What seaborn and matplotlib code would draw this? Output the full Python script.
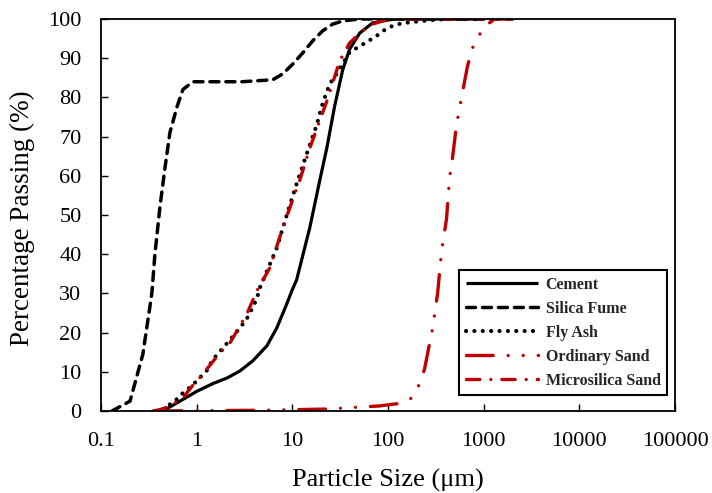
import matplotlib
matplotlib.use("Agg")
import matplotlib.pyplot as plt
import seaborn as sns
import pandas as pd

sns.set_theme(style="white")
plt.rcParams['font.family'] = ['Liberation Serif', 'DejaVu Serif']

# ---- data (particle size in µm, percentage passing) ----
cement_size = [0.443, 0.668, 1.0, 1.48, 2.07, 2.83, 3.86, 5.41, 6.88, 8.74, 9.86, 11.1, 15.2, 19.3, 22.9,
               27.7, 33.6, 39.7, 50.6, 69.0, 88.0, 117, 1000]
cement_pass = [0.0, 2.5, 5.0, 7.0, 8.4, 10.2, 12.8, 16.6, 21.2, 27.3, 30.6, 33.5, 46.7, 58.7, 67.0,
               77.8, 87.0, 92.3, 96.4, 99.0, 99.5, 100, 100]

silica_size = [0.13, 0.201, 0.274, 0.340, 0.366, 0.413, 0.466, 0.525, 0.621, 0.718, 0.91, 1.5, 3.0,
               6.24, 7.94, 10.1, 12.8, 16.3, 20.8, 26.4, 33.6, 50.0, 2000]
silica_pass = [0.0, 2.5, 14.5, 30.0, 40.0, 52.0, 62.0, 71.0, 77.5, 82.0, 84.0, 84.0, 84.0,
               84.5, 86.0, 88.5, 91.3, 94.4, 97.0, 98.7, 99.5, 100, 100]

flyash_size = [0.443, 0.59, 0.718, 0.89, 1.32, 1.44, 2.39, 2.83, 3.34, 3.77, 4.25, 4.57, 6.88, 8.74,
               11.1, 14.1, 18.0, 20.8, 24.6, 29.0, 39.7, 47.0, 59.8, 76.0, 92.0, 117, 149, 250, 400, 1000]
flyash_pass = [0.5, 2.5, 4.6, 6.4, 10.7, 12.8, 19.0, 21.2, 23.5, 26.0, 28.6, 31.4, 41.6, 50.0,
               58.0, 65.5, 73.0, 78.6, 83.4, 86.0, 91.5, 92.6, 94.1, 95.7, 97.2, 98.5, 99.0, 99.6, 100, 100]

ordsand_size = [0.37, 5.0, 23.4, 81.6, 140, 176, 214, 241, 292, 330, 363, 409, 440, 472, 520, 587,
                678, 764, 904, 1019, 1297, 2000]
ordsand_pass = [0.0, 0.2, 0.5, 1.3, 2.0, 3.3, 6.9, 10.7, 21.0, 30.0, 40.8, 49.0, 59.5, 64.5, 73.0, 80.0,
                88.0, 92.6, 96.0, 98.0, 100, 100]

micsand_size = [0.35, 0.443, 0.70, 0.90, 1.07, 1.75, 2.22, 3.34, 4.25, 5.81, 7.94, 9.4, 11.9, 15.2,
                19.3, 22.9, 31.3, 39.7, 54.3, 69.0, 88.0, 109, 1000]
micsand_pass = [0.0, 0.5, 3.0, 6.4, 8.4, 14.8, 17.3, 24.7, 30.6, 36.5, 46.7, 51.8, 58.7, 67.0,
                74.0, 79.0, 89.3, 93.9, 97.0, 98.7, 99.5, 100, 100]

labels = ["Cement", "Silica Fume", "Fly Ash", "Ordinary Sand", "Microsilica Sand"]
xticks = [0.1, 1, 10, 100, 1000, 10000, 100000]
xtick_labels = ["0.1", "1", "10", "100", "1000", "10000", "100000"]
yticks = [0, 10, 20, 30, 40, 50, 60, 70, 80, 90, 100]

series = [
    (labels[0], cement_size, cement_pass),
    (labels[1], silica_size, silica_pass),
    (labels[2], flyash_size, flyash_pass),
    (labels[3], ordsand_size, ordsand_pass),
    (labels[4], micsand_size, micsand_pass),
]

red = "#C00000"
styles = {
    "Cement": dict(color="black", dashes=None, lw=2.3),
    "Silica Fume": dict(color="black", dashes=(2.6, 2.0), lw=2.5),
    "Fly Ash": dict(color="black", dashes=(0.01, 2.0), lw=3.0),
    "Ordinary Sand": dict(color=red, dashes=(8.0, 4.5, 0.01, 4.5, 0.01, 4.5), lw=2.4),
    "Microsilica Sand": dict(color=red, dashes=(4.0, 3.3, 0.01, 3.3), lw=2.4),
}

fig = plt.figure(figsize=(7.12, 4.93), dpi=100)
L, R, T, B = 101, 675, 19, 411
ax = fig.add_axes([L/712, 1 - B/493, (R-L)/712, (B-T)/493])

for name, xs, ys in series:
    df = pd.DataFrame({"size": xs, "pass": ys})
    st = styles[name]
    sns.lineplot(data=df, x="size", y="pass", ax=ax, color=st["color"], lw=st["lw"],
                 label=name, sort=False, estimator=None)
    line = ax.get_lines()[-1]
    if st["dashes"] is not None:
        line.set_dashes(st["dashes"])
    line.set_dash_capstyle("round")
    line.set_solid_capstyle("butt")
    line.set_solid_joinstyle("round")

ax.set_xscale("log")
ax.set_xlim(0.1, 100000)
ax.set_ylim(0, 100)
ax.set_xticks(xticks)
ax.set_xticklabels(xtick_labels)
ax.set_yticks(yticks)
ax.minorticks_off()
ax.tick_params(direction="in", length=5, width=1, labelsize=16, colors="black",
               bottom=True, left=True)
ax.tick_params(axis="x", pad=15)
ax.tick_params(axis="y", pad=14)
for sp in ax.spines.values():
    sp.set_color("black")
    sp.set_linewidth(1.3)

ax.set_xlabel("Particle Size (μm)", fontsize=19, color="black")
ax.set_ylabel("Percentage Passing (%)", fontsize=19.5, color="black")
ax.xaxis.label.set_verticalalignment("center")
ax.yaxis.label.set_verticalalignment("center")
ax.xaxis.set_label_coords((388 - L) / (R - L), (B - 480) / (B - T))
ax.yaxis.set_label_coords((22 - L) / (R - L), (B - 218) / (B - T))

leg = ax.legend(loc="lower right", bbox_to_anchor=(1 - 8/(R-L), 16/(B-T)), frameon=True,
                fancybox=False, edgecolor="black", framealpha=1, borderaxespad=0,
                prop={"weight": "bold", "size": 11.5}, handlelength=4.5,
                borderpad=0.4, labelspacing=0.5, handletextpad=0.5)
leg.get_frame().set_linewidth(1.5)

fig.savefig("out.png", dpi=100)
